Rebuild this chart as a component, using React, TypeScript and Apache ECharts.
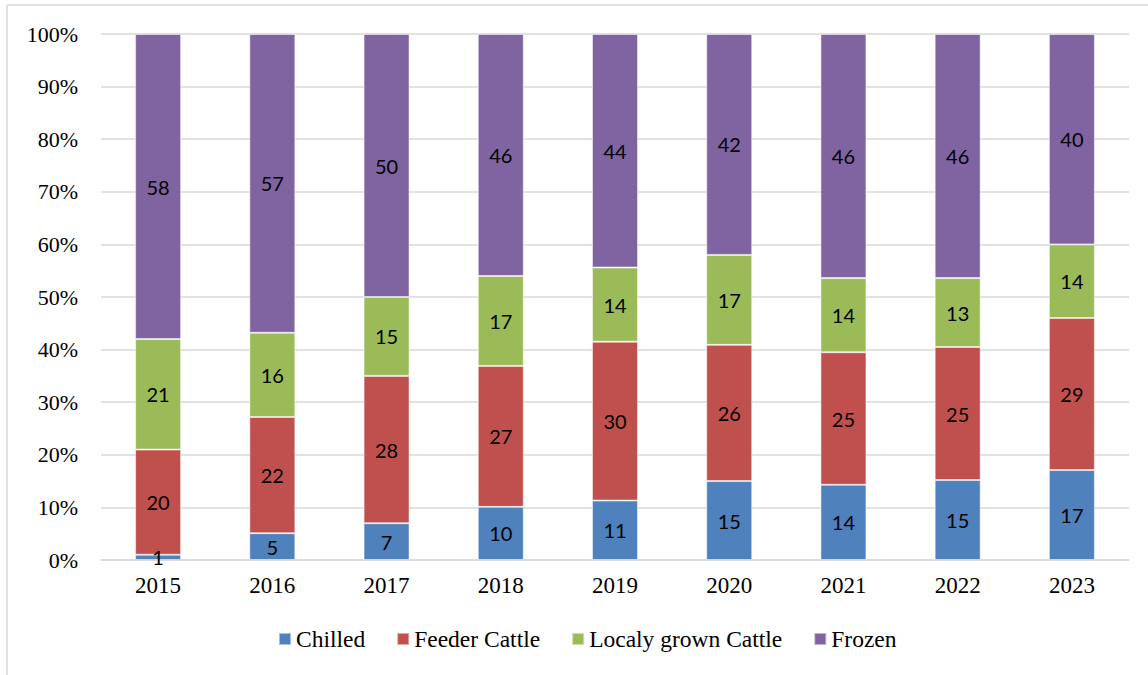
import React, { useEffect, useRef } from "react";
import * as echarts from "echarts";

const years = ["2015", "2016", "2017", "2018", "2019", "2020", "2021", "2022", "2023"];
const chilled = [1, 5.1, 7, 10.1, 11.3, 15, 14.3, 15.2, 17.1];
const feeder = [20, 22.1, 28, 26.8, 30.2, 25.9, 25.2, 25.3, 28.9];
const local = [21, 16, 15, 17.1, 14.1, 17.1, 14.1, 13.1, 14];
const frozen = [58, 56.8, 50, 46, 44.4, 42, 46.4, 46.4, 40];
const yTicks = [0, 10, 20, 30, 40, 50, 60, 70, 80, 90, 100];

const seriesDefs = [
  { name: "Chilled", data: chilled, color: "#4F81BD" },
  { name: "Feeder Cattle", data: feeder, color: "#C0504D" },
  { name: "Localy grown Cattle", data: local, color: "#9BBB59" },
  { name: "Frozen", data: frozen, color: "#8064A2" },
];

const SERIF = "'Liberation Serif', 'Times New Roman', serif";

export default function App() {
  const ref = useRef<HTMLDivElement>(null);
  useEffect(() => {
    if (!ref.current) return;
    const chart = echarts.init(ref.current, null, { renderer: "svg" });
    chart.setOption({
      animation: false,
      backgroundColor: "#ffffff",
      textStyle: { fontFamily: SERIF },
      grid: { left: 101, right: 19, top: 34, bottom: 115, containLabel: false },
      legend: {
        top: 627,
        left: 278,
        padding: 0,
        itemWidth: 12,
        itemHeight: 12,
        itemGap: 31,
        icon: "rect",
        textStyle: { fontFamily: SERIF, fontSize: 23.5, color: "#000", padding: [0, 0, 0, 0] },
        data: seriesDefs.map((s) => s.name),
      },
      xAxis: {
        type: "category",
        data: years,
        axisLine: { lineStyle: { color: "#d9d9d9", width: 1.5 } },
        axisTick: { show: false },
        axisLabel: { fontFamily: SERIF, fontSize: 23, color: "#000", margin: 14 },
      },
      yAxis: {
        type: "value",
        min: 0,
        max: 100,
        interval: 10,
        axisLine: { show: false },
        axisTick: { show: false },
        splitLine: { lineStyle: { color: "#d9d9d9", width: 1.5 } },
        axisLabel: {
          fontFamily: SERIF,
          fontSize: 22,
          color: "#000",
          margin: 23,
          formatter: (v: number) => (yTicks.includes(v) ? v + "%" : ""),
        },
      },
      graphic: [
        { type: "line", shape: { x1: 7, y1: 5, x2: 1148, y2: 5 }, style: { stroke: "#d9d9d9", lineWidth: 1.5 } },
        { type: "line", shape: { x1: 7, y1: 5, x2: 7, y2: 675 }, style: { stroke: "#d9d9d9", lineWidth: 1.5 } },
      ],
      series: seriesDefs.map((s) => ({
        name: s.name,
        type: "bar",
        stack: "total",
        data: s.data,
        barWidth: 46,
        itemStyle: { color: s.color, borderColor: "rgba(255,255,255,0.5)", borderWidth: 1 },
        label: {
          show: true,
          position: "inside",
          fontFamily: "Lato, 'Open Sans', sans-serif",
          fontSize: 20,
          color: "#000",
          formatter: (p: any) => String(Math.round(p.value)),
        },
      })),
    });
    return () => chart.dispose();
  }, []);
  return (
    <div
      ref={ref}
      style={{ position: "fixed", left: 0, top: 0, width: 1148, height: 675 }}
    />
  );
}
